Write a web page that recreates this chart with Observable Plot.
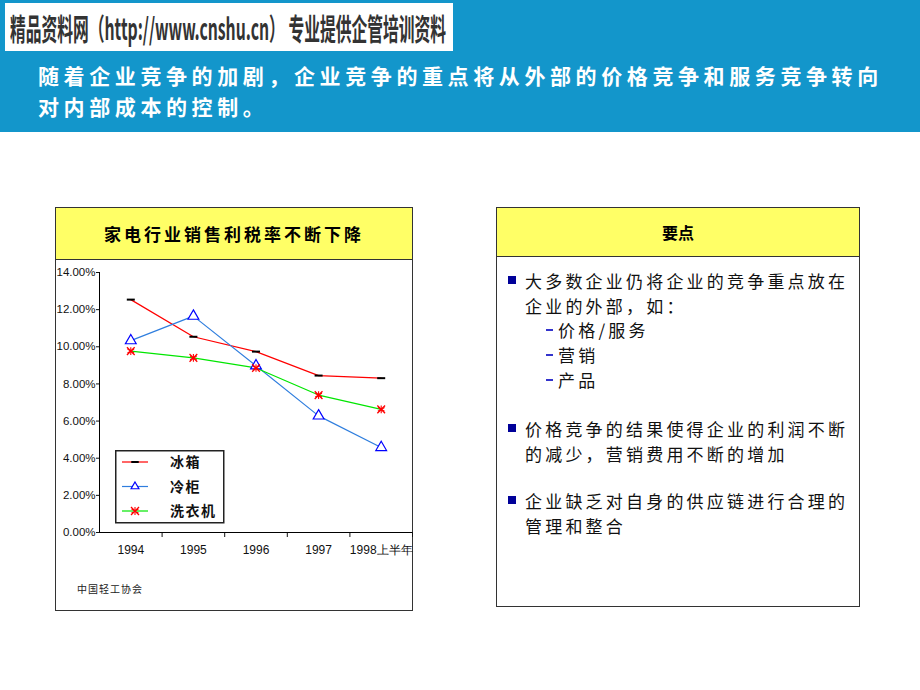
<!DOCTYPE html>
<html><head><meta charset="utf-8">
<script src="https://cdn.jsdelivr.net/npm/d3@7"></script>
<script src="https://cdn.jsdelivr.net/npm/@observablehq/plot@0.6"></script>
<style>
body{margin:0;width:920px;height:690px;background:#fff;position:relative;overflow:hidden;font-family:"Noto Sans CJK SC",sans-serif;}
.abs{position:absolute;}
#banner{left:0;top:0;width:920px;height:132px;background:#1396cb;}
#logo{left:5px;top:3px;width:448px;height:48px;background:#fff;overflow:hidden;}
#logoText{position:absolute;left:5px;top:4px;font-size:30px;line-height:40px;font-weight:bold;color:#333;white-space:nowrap;transform-origin:0 50%;}
#headline{left:38px;top:60px;color:#fff;font-weight:bold;font-size:21px;letter-spacing:4.6px;line-height:31px;white-space:nowrap;}
.box{border:1px solid #333;background:#fff;box-sizing:border-box;}
.hdr{position:absolute;left:0;top:0;right:0;background:#ffff66;border-bottom:1px solid #333;display:flex;align-items:center;justify-content:center;font-weight:bold;color:#000;}
.bl{position:absolute;font-size:17px;letter-spacing:3.2px;line-height:25px;white-space:nowrap;color:#111;}
.sq{position:absolute;width:8px;height:8px;background:#000099;}
.dash{position:absolute;width:7px;height:2px;background:#3333cc;}
</style></head>
<body>
<div id="banner" class="abs"></div>
<div id="logo" class="abs"><span id="logoText">精品资料网（http://www.cnshu.cn） 专业提供企管培训资料</span></div>
<div id="headline" class="abs">随着企业竞争的加剧，企业竞争的重点将从外部的价格竞争和服务竞争转向<br>对内部成本的控制。</div>

<div class="abs box" style="left:55px;top:207px;width:358px;height:404px;">
  <div class="hdr" style="height:51px;font-size:17px;letter-spacing:3px;">家电行业销售利税率不断下降</div>
</div>
<div id="chart" class="abs" style="left:56px;top:259px;"></div>
<div id="legend" class="abs" style="left:115px;top:450px;"></div>
<div class="abs" style="left:77px;top:581px;font-size:10px;color:#222;letter-spacing:1px;">中国轻工协会</div>

<div class="abs box" style="left:496px;top:207px;width:364px;height:400px;">
  <div class="hdr" style="height:48px;font-size:16px;">要点</div>
</div>
<div id="points"></div>

<script>
const years = ["1994", "1995", "1996", "1997", "1998上半年"];
const seriesNames = ["冰箱", "冷柜", "洗衣机"];
const fridge = [12.54, 10.54, 9.74, 8.45, 8.31];
const freezer = [10.33, 11.65, 8.98, 6.28, 4.58];
const washer = [9.77, 9.40, 8.86, 7.40, 6.63];
const yTicks = [0, 2, 4, 6, 8, 10, 12, 14];

// fit logo text into its white box
const lt = document.getElementById("logoText");
const natural = lt.getBoundingClientRect().width;
lt.style.transform = `scaleX(${(436 / natural).toFixed(4)})`;

const rows = [];
[fridge, freezer, washer].forEach((arr, s) => arr.forEach((v, i) => rows.push({series: seriesNames[s], x: i + 0.5, y: v})));
const of = name => rows.filter(d => d.series === name);

const dashSym = {draw(ctx, size){ const r = Math.sqrt(size / Math.PI); ctx.moveTo(-r, 0); ctx.lineTo(r, 0); }};

const chart = Plot.plot({
  width: 357, height: 330,
  marginLeft: 43, marginRight: 1, marginTop: 13, marginBottom: 57,
  style: {fontFamily: "Liberation Sans, sans-serif", fontSize: "12px", background: "transparent", overflow: "visible", color: "#111"},
  x: {domain: [0, 5], label: null},
  y: {domain: [0, 14], label: null},
  marks: [
    Plot.axisY({ticks: yTicks, tickFormat: d => d.toFixed(2) + "%", tickSize: 3, tickPadding: 1, fontSize: 11.5, label: null}),
    Plot.axisX({ticks: [1, 2, 3, 4, 5], tickSize: 5, tickFormat: () => "", label: null}),
    Plot.axisX({ticks: years.map((d, i) => i + 0.5), tickSize: 0, tickPadding: 13, tickFormat: d => years[Math.floor(d)], fontSize: 12, label: null}),
    Plot.ruleX([0], {stroke: "#000"}),
    Plot.ruleY([0], {stroke: "#000"}),
    Plot.line(of("冰箱"), {x: "x", y: "y", stroke: "#ff0000", strokeWidth: 1.2}),
    Plot.line(of("冷柜"), {x: "x", y: "y", stroke: "#2f7ede", strokeWidth: 1.2}),
    Plot.line(of("洗衣机"), {x: "x", y: "y", stroke: "#00e600", strokeWidth: 1.2}),
    Plot.dot(of("冰箱"), {x: "x", y: "y", symbol: dashSym, r: 4, stroke: "#000", strokeWidth: 2, fill: "none"}),
    Plot.dot(of("冷柜"), {x: "x", y: "y", symbol: "triangle", r: 4, stroke: "#0000ff", strokeWidth: 1.2, fill: "#fff"}),
    Plot.dot(of("洗衣机"), {x: "x", y: "y", symbol: "times", r: 3.6, stroke: "#ff0000", strokeWidth: 1.3}),
    Plot.dot(of("洗衣机"), {x: "x", y: "y", symbol: "asterisk", r: 3.6, stroke: "#ff0000", strokeWidth: 1.1})
  ]
});
document.getElementById("chart").appendChild(chart);

// legend
const lg = d3.select("#legend").append("svg").attr("width", 110).attr("height", 74);
lg.append("rect").attr("x", 0.75).attr("y", 0.75).attr("width", 108).attr("height", 72).attr("fill", "#fff").attr("stroke", "#222").attr("stroke-width", 1.5);
const legStyles = [
  {line: "#ff0000", sym: dashSym, stroke: "#000", fill: "none", sw: 2},
  {line: "#2f7ede", sym: d3.symbolTriangle2, stroke: "#0000ff", fill: "#fff", sw: 1.2},
  {line: "#00e600", sym: d3.symbolTimes, stroke: "#ff0000", fill: "none", sw: 1.3}
];
seriesNames.forEach((name, i) => {
  const cy = 12 + i * 24.5, st = legStyles[i];
  lg.append("line").attr("x1", 7).attr("x2", 33).attr("y1", cy).attr("y2", cy).attr("stroke", st.line).attr("stroke-width", 1.2);
  lg.append("path").attr("transform", `translate(20,${cy})`).attr("d", d3.symbol(st.sym, Math.PI * 14)()).attr("stroke", st.stroke).attr("fill", st.fill).attr("stroke-width", st.sw);
  if (i === 2) lg.append("path").attr("transform", `translate(20,${cy})`).attr("d", d3.symbol(d3.symbolAsterisk, Math.PI * 14)()).attr("stroke", st.stroke).attr("fill", "none").attr("stroke-width", 1.1);
  lg.append("text").attr("x", 55).attr("y", cy + 5).attr("font-size", 14).attr("font-weight", "bold").attr("letter-spacing", 1.5).attr("font-family", "Noto Sans CJK SC").attr("fill", "#111").text(name);
});

// key points
const bullets = [
  {lines: ["大多数企业仍将企业的竞争重点放在", "企业的外部，如："], y: 280},
  {lines: ["价格竞争的结果使得企业的利润不断", "的减少，营销费用不断的增加"], y: 428},
  {lines: ["企业缺乏对自身的供应链进行合理的", "管理和整合"], y: 500}
];
const subItems = [{t: "价格/服务", y: 329}, {t: "营销", y: 354}, {t: "产品", y: 379}];
const pts = document.getElementById("points");
bullets.forEach(b => {
  const sq = document.createElement("div"); sq.className = "sq"; sq.style.left = "508px"; sq.style.top = (b.y - 4) + "px"; pts.appendChild(sq);
  b.lines.forEach((l, k) => {
    const d = document.createElement("div"); d.className = "bl"; d.style.left = "525px"; d.style.top = (b.y - 12.5 + k * 25) + "px"; d.textContent = l; pts.appendChild(d);
  });
});
subItems.forEach(s => {
  const dh = document.createElement("div"); dh.className = "dash"; dh.style.left = "546px"; dh.style.top = (s.y) + "px"; pts.appendChild(dh);
  const d = document.createElement("div"); d.className = "bl"; d.style.left = "558px"; d.style.top = (s.y - 12.5) + "px"; d.textContent = s.t; pts.appendChild(d);
});
</script>
</body></html>
